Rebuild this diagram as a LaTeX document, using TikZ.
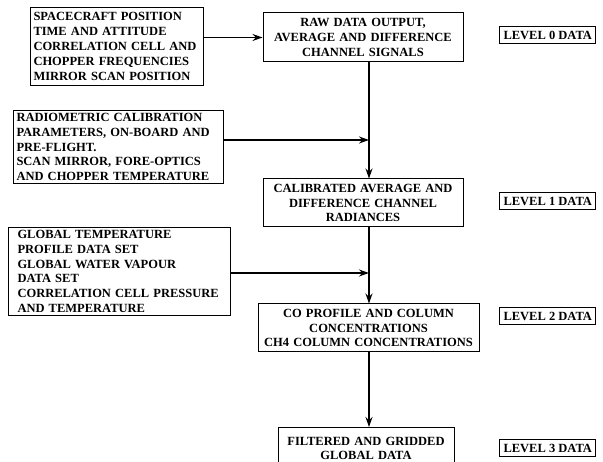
\documentclass[tikz,border=0pt]{standalone}
\usepackage{fontspec}
\setmainfont{Liberation Serif}
\usetikzlibrary{arrows.meta}

\tikzset{
	inbox/.style={draw, line width=1pt, align=left, anchor=north west, inner ysep=2pt},
	procbox/.style={draw, line width=1pt, align=center, inner xsep=3pt, inner ysep=2pt},
	lvlbox/.style={draw, line width=1pt, inner xsep=4pt, inner ysep=0pt, minimum height=17pt, anchor=west},
	flow/.style={line width=1.3pt, -{Stealth[length=10pt, width=7pt]}}
}

\begin{document}
\begin{tikzpicture}[x=1pt, y=-1pt, font=\fontsize{12.5}{14.8}\selectfont\bfseries]
			\useasboundingbox (0,0) rectangle (603,462);
			% input data sets
			\node[inbox, text width=167pt, minimum height=78pt, inner xsep=3pt] (pos) at (30,7)
				{SPACECRAFT POSITION\\TIME AND ATTITUDE\\CORRELATION CELL AND\\CHOPPER FREQUENCIES\\MIRROR SCAN POSITION};
			\node[inbox, text width=204pt, minimum height=73pt, inner xsep=3pt] (calib) at (13,110)
				{RADIOMETRIC CALIBRATION\\PARAMETERS, ON-BOARD AND\\PRE-FLIGHT.\\SCAN MIRROR, FORE-OPTICS\\AND CHOPPER TEMPERATURE};
			\node[inbox, text width=204pt, minimum height=88pt, inner xsep=9pt] (glob) at (8,227)
				{GLOBAL TEMPERATURE\\PROFILE DATA SET\\GLOBAL WATER VAPOUR\\DATA SET\\CORRELATION CELL PRESSURE\\AND TEMPERATURE};
			% processing chain
			\node[procbox, text width=194pt, minimum height=49pt] (raw) at (363,37.5)
				{RAW DATA OUTPUT,\\AVERAGE AND DIFFERENCE\\CHANNEL SIGNALS};
			\node[procbox, text width=194pt, minimum height=48pt] (rad) at (363,203)
				{CALIBRATED AVERAGE AND\\DIFFERENCE CHANNEL\\RADIANCES};
			\node[procbox, text width=215pt, minimum height=48pt] (conc) at (368.5,328)
				{CO PROFILE AND COLUMN\\CONCENTRATIONS\\CH4 COLUMN CONCENTRATIONS};
			\node[procbox, text width=170pt, minimum height=42pt, anchor=north] (grid) at (366,427)
				{FILTERED AND GRIDDED\\GLOBAL DATA};
			% levels
			\node[lvlbox] (lev0) at (499,35) {LEVEL 0 DATA};
			\node[lvlbox] (lev1) at (499,201) {LEVEL 1 DATA};
			\node[lvlbox] (lev2) at (499,316.5) {LEVEL 2 DATA};
			\node[lvlbox] (lev3) at (499,448.5) {LEVEL 3 DATA};
			% connectors
			\coordinate (j1) at (369,140);
			\coordinate (j2) at (369,273);
			\draw[flow] (pos.east |- raw.west) -- (raw.west);
			\draw[line width=1.3pt] ([xshift=6pt]raw.south) -- (j1);
			\draw[flow] (calib.east |- j1) -- (j1);
			\draw[flow] (j1) -- ([xshift=6pt]rad.north);
			\draw[line width=1.3pt] ([xshift=6pt]rad.south) -- (j2);
			\draw[flow] (glob.east |- j2) -- (j2);
			\draw[flow] (j2) -- (j2 |- conc.north);
			\draw[flow] (j2 |- conc.south) -- (j2 |- grid.north);
		\end{tikzpicture}
\end{document}
